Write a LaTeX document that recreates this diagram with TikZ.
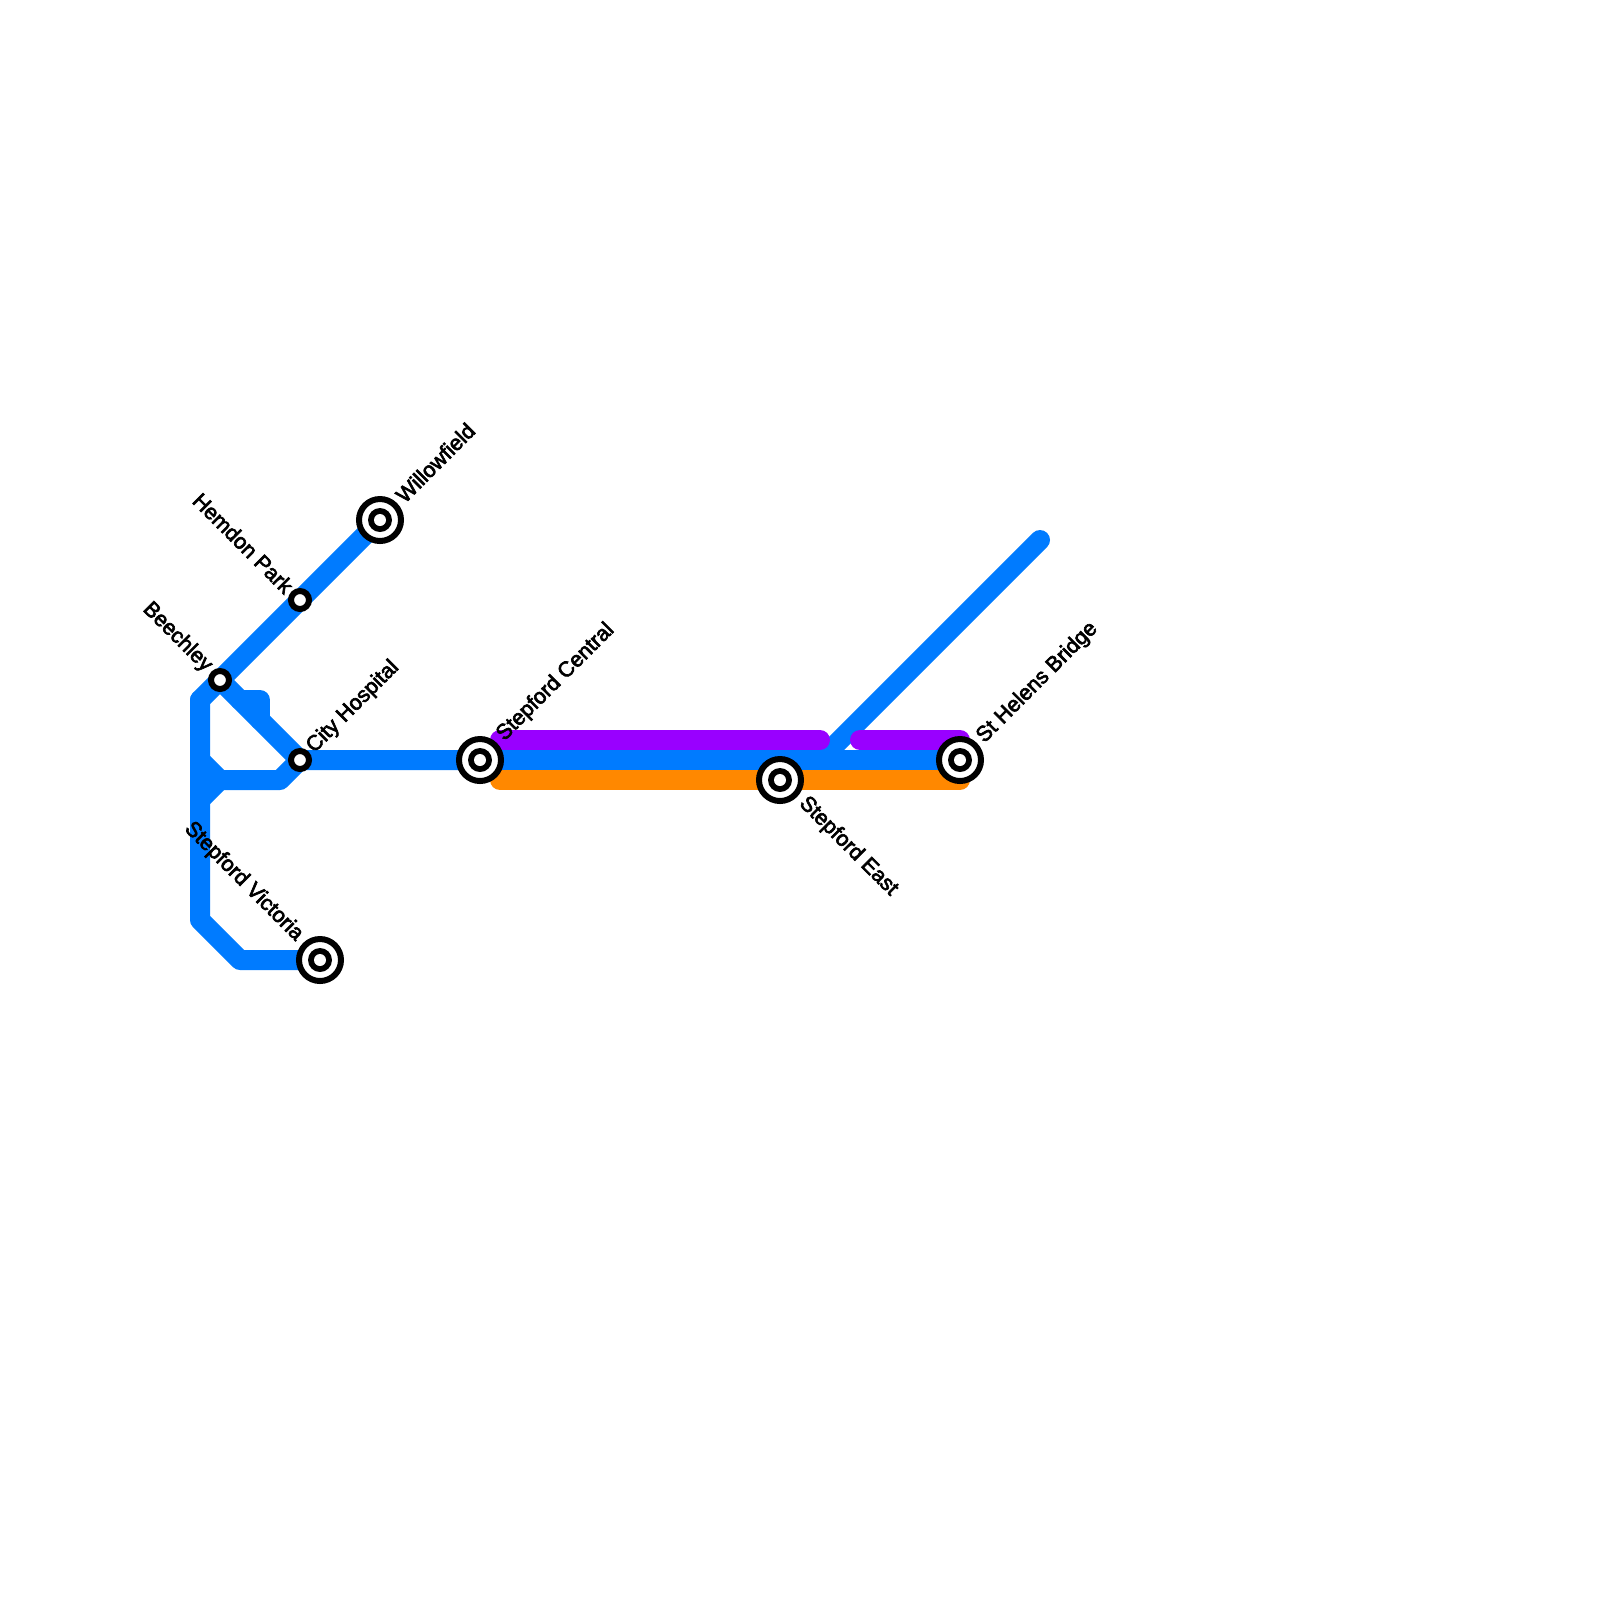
\documentclass[tikz,border=0pt]{standalone}
\usepackage{fontspec}
\setmainfont{Liberation Sans}[FakeBold=3]
\usepackage{xcolor}
\usetikzlibrary{backgrounds}
\definecolor{lineblue}{HTML}{007BFF}
\definecolor{linepurple}{HTML}{9900FF}
\definecolor{lineorange}{HTML}{FF8800}
\tikzset{
  route/.style={line width=0.2cm,line join=round,line cap=round},
  halt/.style={circle,draw=black,fill=white,line width=0.06cm,minimum size=0.18cm,inner sep=0pt},
  hub/.style={circle,draw=black,fill=white,line width=0.06cm,minimum size=0.42cm,inner sep=0pt,
    path picture={\fill [black] (path picture bounding box.center) circle (0.12cm);
      \fill [white] (path picture bounding box.center) circle (0.06cm);}},
  stopname/.style={font=\fontsize{6.1pt}{8pt}\selectfont,inner sep=0pt},
}
\begin{document}
\begin{tikzpicture}[x=0.2cm,y=-0.2cm]
    \useasboundingbox (0,0) rectangle (80,80);
    \begin{scope}
      \coordinate (forkTop) at (10,35);
      \coordinate (forkMid) at (10,38);
      \coordinate (forkLow) at (10,40);
      \coordinate (shoulder) at (11,39);
      \coordinate (elbow) at (14,39);
      \coordinate (corner) at (10,46);
      \coordinate (foot) at (12,48);
      \coordinate (stubA) at (12,35);
      \coordinate (stubB) at (13,35);
      \coordinate (stubC) at (13,36);
      \coordinate (spurEnd) at (52,27);
      \coordinate (spurBase) at (41,38);
      \coordinate (purpleA) at (25,37);
      \coordinate (purpleB) at (41,37);
      \coordinate (purpleC) at (43,37);
      \coordinate (purpleD) at (48,37);
      \coordinate (orangeA) at (25,39);
      \coordinate (orangeB) at (48,39);

      \foreach \n/\x/\y in {beechley/11/34,hemdon/15/30,hospital/15/38}{
        \node [halt] (\n) at (\x,\y) {};
      }
      \foreach \n/\x/\y in {willowfield/19/26,central/24/38,east/39/39,helens/48/38,victoria/16/48}{
        \node [hub] (\n) at (\x,\y) {};
      }

      \begin{pgfonlayer}{background}
        \draw [route,lineblue] (forkTop) -- (willowfield.center);
        \draw [route,lineblue] (forkTop) -- (corner) -- (foot) -- (victoria.center);
        \draw [route,lineblue] (beechley.center) -- (hospital.center) -- (helens.center);
        \draw [route,lineblue] (forkMid) -- (shoulder) -- (elbow) -- (hospital.center);
        \draw [route,lineblue] (forkLow) -- (shoulder);
        \draw [route,lineblue] (stubA) -- (stubB) -- (stubC);
        \draw [route,lineblue] (spurEnd) -- (spurBase);
        \draw [route,lineorange] (orangeA) -- (orangeB);
        \draw [route,linepurple] (purpleA) -- (purpleB);
        \draw [route,linepurple] (purpleC) -- (purpleD);
      \end{pgfonlayer}

      \node [stopname,anchor=west,rotate=45] (willowname) at (19.95,24.95) {Willowfield};
      \node [stopname,anchor=east,rotate=-45] (hemdonname) at (14.5,29.5) {Hemdon Park};
      \node [stopname,anchor=east,rotate=-45] (beechleyname) at (10.45,33.45) {Beechley};
      \node [stopname,anchor=west,rotate=45] (hospitalname) at (15.5,37.5) {City Hospital};
      \node [stopname,anchor=west,rotate=45] (centralname) at (25,36.9) {Stepford Central};
      \node [stopname,anchor=west,rotate=-45] (eastname) at (40.1,40) {Stepford East};
      \node [stopname,anchor=west,rotate=45] (helensname) at (49,37) {St Helens Bridge};
      \node [stopname,anchor=east,rotate=-45] (victorianame) at (15,46.9) {Stepford Victoria};
    \end{scope}
\end{tikzpicture}
\end{document}
